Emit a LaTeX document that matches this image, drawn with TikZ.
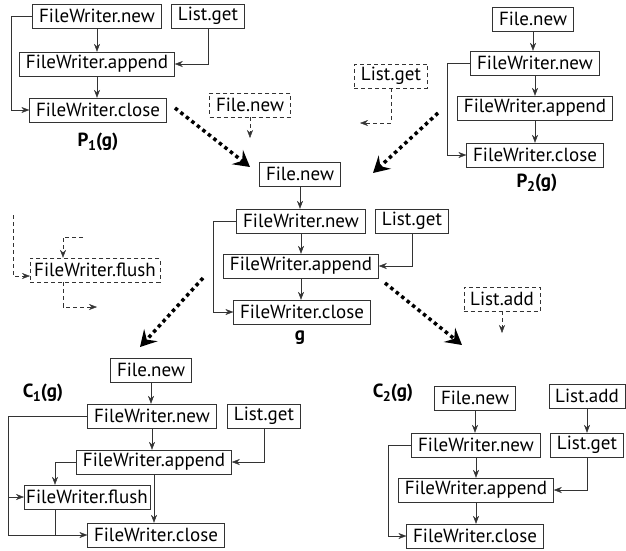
\documentclass[tikz,border=0pt]{standalone}
\usepackage{fontspec}
\setmainfont{PT Sans}
\usetikzlibrary{arrows.meta}
\tikzset{
    blk/.style={draw=black!80, inner xsep=6.5pt, inner ysep=2pt, minimum height=24pt, font=\fontsize{19}{21}\selectfont},
    dblk/.style={blk, dash pattern=on 4pt off 3pt},
    arr/.style={draw=black!80, -{Stealth[length=8pt, width=6pt]}},
    darr/.style={arr, dash pattern=on 4pt off 3pt},
    bigarr/.style={line width=3.5pt, dash pattern=on 3.5pt off 3.5pt, -{Stealth[length=16pt, width=18pt, inset=6pt]}},
    lbl/.style={font=\fontsize{19}{21}\selectfont\bfseries}
}
\newcommand{\subname}[2]{#1\kern-0.5pt\raisebox{-0.45ex}{\fontsize{14}{15}\selectfont\bfseries #2}(g)}
\begin{document}
\begin{tikzpicture}[x=1pt, y=-1pt]
    \useasboundingbox (0,0) rectangle (626,550);
    % P_1(g)
    \node[blk] (p1new) at (97,16) {FileWriter.new};
    \node[blk] (p1get) at (208,16) {List.get};
    \node[blk] (p1app) at (97,64) {FileWriter.append};
    \node[blk] (p1close) at (98,110) {FileWriter.close};
    \node[lbl] (p1lbl) at (98,142) {\subname{P}{1}};
    \draw[arr] (p1new) -- (p1new |- p1app.north);
    \draw[arr] (p1app) -- (p1app |- p1close.north);
    \draw[arr] (p1get.south) |- (p1app.east);
    \draw[arr] (p1new.west) -- ++(-21,0) |- (p1close.west);
    \node[dblk] (p1fnew) at (250,105) {File.new};
    \coordinate (p1fend) at (250,138);
    \draw[darr] (p1fnew) -- (p1fend);
    % P_2(g)
    \node[blk] (p2fnew) at (533,19) {File.new};
    \node[blk] (p2new) at (535,63) {FileWriter.new};
    \node[blk] (p2app) at (535,108) {FileWriter.append};
    \node[blk] (p2close) at (535,155) {FileWriter.close};
    \node[lbl] (p2lbl) at (537,183) {\subname{P}{2}};
    \draw[arr] (p2fnew) -- (p2fnew |- p2new.north);
    \draw[arr] (p2new) -- (p2new |- p2app.north);
    \draw[arr] (p2app) -- (p2app |- p2close.north);
    \draw[arr] (p2new.west) -- ++(-23,0) |- (p2close.west);
    \node[dblk] (p2get) at (391,76) {List.get};
    \coordinate (p2gend) at (360,123);
    \draw[darr] (p2get) |- (p2gend);
    % g
    \node[blk] (gfnew) at (300,174) {File.new};
    \node[blk] (gnew) at (301,221) {FileWriter.new};
    \node[blk] (gget) at (412,221) {List.get};
    \node[blk] (gapp) at (301,266) {FileWriter.append};
    \node[blk] (gclose) at (302,312) {FileWriter.close};
    \node[lbl] (glbl) at (300,338) {g};
    \draw[arr] (gfnew) -- (gfnew |- gnew.north);
    \draw[arr] (gnew) -- (gnew |- gapp.north);
    \draw[arr] (gapp) -- (gapp |- gclose.north);
    \draw[arr] (gget.south) |- (gapp.east);
    \draw[arr] (gnew.west) -- ++(-23,0) |- (gclose.west);
    \node[dblk] (gadd) at (502,299) {List.add};
    \coordinate (gaend) at (502,333);
    \draw[darr] (gadd) -- (gaend);
    % FileWriter.flush
    \node[dblk, inner xsep=4pt] (fflush) at (95,270) {FileWriter.flush};
    \coordinate (fl1) at (13,215);
    \coordinate (fl2) at (83,237);
    \coordinate (fl3) at (97,307);
    \draw[darr] (fl1) |- ([yshift=-6pt]fflush.west);
    \draw[darr] (fl2) -| ([xshift=-32pt]fflush.north);
    \draw[darr] ([xshift=-32pt]fflush.south) |- (fl3);
    % C_1(g)
    \node[lbl] (c1lbl) at (43,393) {\subname{C}{1}};
    \node[blk] (c1fnew) at (151,370) {File.new};
    \node[blk] (c1new) at (152,416) {FileWriter.new};
    \node[blk] (c1get) at (264,416) {List.get};
    \node[blk] (c1app) at (154,462) {FileWriter.append};
    \node[blk, inner xsep=2pt] (c1flush) at (87,497) {FileWriter.flush};
    \node[blk] (c1close) at (156,535) {FileWriter.close};
    \draw[arr] (c1fnew) -- (c1fnew |- c1new.north);
    \draw[arr] (c1new) -- (c1new |- c1app.north);
    \draw[arr] (c1app) -- (c1app |- c1close.north);
    \draw[arr] (c1get.south) |- (c1app.east);
    \draw[arr] (c1app.west) -| ([xshift=-32pt]c1flush.north);
    \draw[arr] (c1new.west) -- ++(-79,0) coordinate (c1l) |- (c1close.west);
    \draw[arr] (c1l |- c1flush.west) -- (c1flush.west);
    \draw[draw=black!80] ([xshift=-32pt]c1flush.south) -- ([xshift=-32pt]c1flush.south |- c1close.west);
    % C_2(g)
    \node[lbl] (c2lbl) at (393,393) {\subname{C}{2}};
    \node[blk] (c2fnew) at (475,398) {File.new};
    \node[blk] (c2add) at (587,396) {List.add};
    \node[blk] (c2new) at (476,445) {FileWriter.new};
    \node[blk] (c2get) at (587,445) {List.get};
    \node[blk] (c2app) at (476,490) {FileWriter.append};
    \node[blk] (c2close) at (475,536) {FileWriter.close};
    \draw[arr] (c2fnew) -- (c2fnew |- c2new.north);
    \draw[arr] (c2new) -- (c2new |- c2app.north);
    \draw[arr] (c2app) -- (c2app |- c2close.north);
    \draw[arr] (c2add) -- (c2add |- c2get.north);
    \draw[arr] (c2get.south) |- (c2app.east);
    \draw[arr] (c2new.west) -- ++(-23,0) |- (c2close.west);
    % Derivation arrows
    \coordinate (d1s) at (175,108); \coordinate (d1e) at (250,167);
    \coordinate (d2s) at (438,113); \coordinate (d2e) at (373,173);
    \coordinate (d3s) at (203,278); \coordinate (d3e) at (140,347);
    \coordinate (d4s) at (385,283); \coordinate (d4e) at (462,345);
    \foreach \s/\e in {d1s/d1e, d2s/d2e, d3s/d3e, d4s/d4e}
        \draw[bigarr] (\s) -- (\e);
\end{tikzpicture}
\end{document}
